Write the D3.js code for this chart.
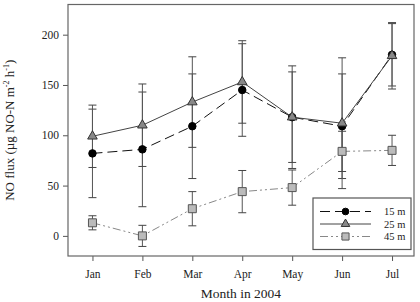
<!DOCTYPE html>
<html>
<head>
<meta charset="utf-8">
<script src="https://cdn.jsdelivr.net/npm/d3@7"></script>
<style>
  body { margin: 0; background: #fff; }
  svg { display: block; }
  svg text { font-family: "Liberation Serif", "Times New Roman", "DejaVu Serif", serif; }
</style>
</head>
<body>
<svg id="chart" width="420" height="302"></svg>
<script>
"use strict";

const months = ["Jan", "Feb", "Mar", "Apr", "May", "Jun", "Jul"];
const flux15 = [82, 86, 109, 145, 118, 109, 180];
const err15 = [44, 57, 52, 46, 51, 52, 31];
const flux25 = [99, 110, 133, 153, 118, 112, 179];
const err25 = [31, 41, 45, 41, 45, 65, 33];
const flux45 = [13, 0, 27, 44, 48, 84, 85];
const err45 = [7, 10.5, 17, 21, 17.5, 20, 15];
const yTicks = [0, 50, 100, 150, 200];

const series = [
  { name: "15 m", values: flux15, errors: err15, line: "#111", dash: "10,5", marker: "circle" },
  { name: "25 m", values: flux25, errors: err25, line: "#444", dash: null, marker: "triangle" },
  { name: "45 m", values: flux45, errors: err45, line: "#888", dash: "8,3,2,3,2,3", marker: "square" }
];

const serif = "Liberation Serif, Times New Roman, serif";
const svg = d3.select("#chart");
const plotLeft = 68, plotRight = 414, plotTop = 4.5, plotBottom = 256;

const x = d3.scaleLinear().domain([0.51, 7.44]).range([plotLeft, plotRight]);
const y = d3.scaleLinear().domain([-20, 230]).range([plotBottom, plotTop]);

// y axis
const yAxis = svg.append("g")
  .attr("transform", `translate(${plotLeft},0)`)
  .call(d3.axisLeft(y).tickValues(yTicks).tickSize(5).tickPadding(4));
yAxis.attr("font-family", serif).attr("font-size", 11.5);
yAxis.select(".domain").remove();
yAxis.selectAll("line").attr("stroke", "#555");
yAxis.selectAll("text").attr("fill", "#222");

// x axis
const xAxis = svg.append("g")
  .attr("transform", `translate(0,${plotBottom})`)
  .call(d3.axisBottom(x).tickValues(d3.range(1, 8))
    .tickFormat((d) => months[d - 1]).tickSize(5).tickPadding(9));
xAxis.attr("font-family", serif).attr("font-size", 11.5);
xAxis.select(".domain").remove();
xAxis.selectAll("line").attr("stroke", "#555");
xAxis.selectAll("text").attr("fill", "#222");

// frame
svg.append("rect")
  .attr("x", plotLeft).attr("y", plotTop)
  .attr("width", plotRight - plotLeft).attr("height", plotBottom - plotTop)
  .attr("fill", "none").attr("stroke", "#666").attr("stroke-width", 1.2);

const markerPath = (type, k = 1) => {
  if (type === "circle") return d3.symbol(d3.symbolCircle, 44 * k)();
  if (type === "triangle") return d3.symbol(d3.symbolTriangle, 40 * k)();
  return d3.symbol(d3.symbolSquare, 64 * k)();
};
const markerFill = { circle: "#000", triangle: "#888", square: "#bbb" };
const markerStroke = { circle: "#000", triangle: "#333", square: "#555" };

// error bars
series.forEach((s) => {
  const g = svg.append("g");
  s.values.forEach((v, i) => {
    const cx = x(i + 1);
    const hi = y(v + s.errors[i]);
    const lo = y(v - s.errors[i]);
    g.append("line").attr("x1", cx).attr("x2", cx).attr("y1", hi).attr("y2", lo)
      .attr("stroke", "#555").attr("stroke-width", 1);
    [hi, lo].forEach((cy) => {
      g.append("line").attr("x1", cx - 4).attr("x2", cx + 4).attr("y1", cy).attr("y2", cy)
        .attr("stroke", "#444").attr("stroke-width", 1);
    });
  });
});

// lines and markers
const line = d3.line().x((d, i) => x(i + 1)).y((d) => y(d));
series.forEach((s) => {
  svg.append("path")
    .datum(s.values)
    .attr("d", line)
    .attr("fill", "none")
    .attr("stroke", s.line)
    .attr("stroke-width", 1)
    .attr("stroke-dasharray", s.dash);

  svg.append("g").selectAll("path")
    .data(s.values)
    .join("path")
    .attr("d", markerPath(s.marker))
    .attr("transform", (d, i) => `translate(${x(i + 1)},${y(d)})`)
    .attr("fill", markerFill[s.marker])
    .attr("stroke", markerStroke[s.marker])
    .attr("stroke-width", 1);
});

// legend
const legend = svg.append("g");
legend.append("rect")
  .attr("x", 313).attr("y", 198).attr("width", 98).attr("height", 51.5)
  .attr("fill", "#fff").attr("stroke", "#555").attr("stroke-width", 1.2);
series.forEach((s, i) => {
  const ly = 211.5 + i * 12.5;
  legend.append("line")
    .attr("x1", 320).attr("x2", 371).attr("y1", ly).attr("y2", ly)
    .attr("stroke", s.line).attr("stroke-width", 1)
    .attr("stroke-dasharray", s.dash);
  legend.append("path")
    .attr("d", markerPath(s.marker, 0.8))
    .attr("transform", `translate(345.5,${ly})`)
    .attr("fill", markerFill[s.marker])
    .attr("stroke", markerStroke[s.marker]);
  legend.append("text")
    .attr("x", 384).attr("y", ly + 3.5)
    .attr("font-family", serif)
    .attr("font-size", 10.5).attr("fill", "#222")
    .text(s.name);
});

// axis titles
svg.append("text")
  .attr("x", (plotLeft + plotRight) / 2).attr("y", 298)
  .attr("font-family", serif)
  .attr("text-anchor", "middle").attr("font-size", 13.5).attr("fill", "#222")
  .text("Month in 2004");

const yt = svg.append("text")
  .attr("transform", `translate(14,${(plotTop + plotBottom) / 2}) rotate(-90)`)
  .attr("font-family", serif)
  .attr("text-anchor", "middle").attr("font-size", 13).attr("fill", "#222");
yt.append("tspan").text("NO flux (µg NO-N m");
yt.append("tspan").attr("dy", -5).attr("font-size", 8).text("-2");
yt.append("tspan").attr("dy", 5).text(" h");
yt.append("tspan").attr("dy", -5).attr("font-size", 8).text("-1");
yt.append("tspan").attr("dy", 5).text(")");
</script>
</body>
</html>
